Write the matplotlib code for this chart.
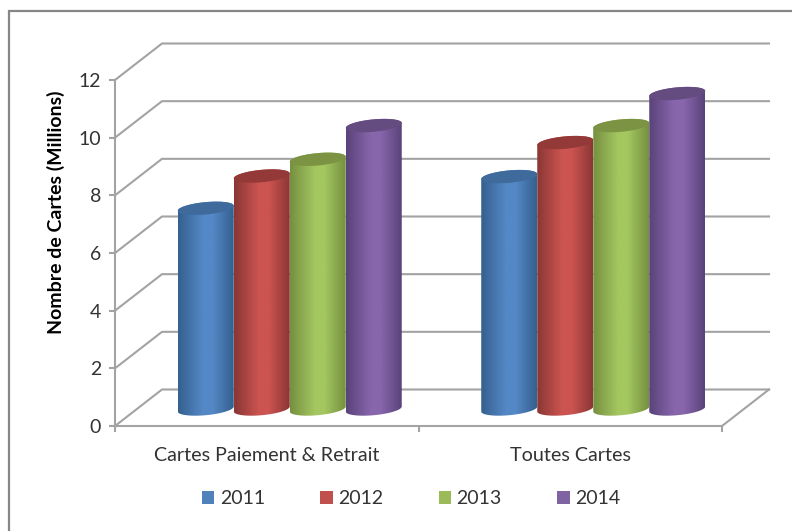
import numpy as np
import matplotlib
matplotlib.use('Agg')
import matplotlib.pyplot as plt
from matplotlib.colors import LinearSegmentedColormap
from matplotlib.lines import Line2D
from matplotlib.patches import Patch, PathPatch, Polygon
from matplotlib.path import Path

plt.rcParams['font.family'] = ['Lato', 'DejaVu Sans']

# Values
categories = ['Cartes Paiement & Retrait', 'Toutes Cartes']
years = ['2011', '2012', '2013', '2014']
values_2011 = [6.96, 8.06]
values_2012 = [8.08, 9.24]
values_2013 = [8.66, 9.83]
values_2014 = [9.83, 10.94]
series = [values_2011, values_2012, values_2013, values_2014]

# edge, centre, top of each cylinder
edge_colors = ['#35608f', '#8a3735', '#769040', '#59437a']
mid_colors = ['#5488c6', '#cc5451', '#a4c760', '#8866ac']
top_colors = ['#3f6b9c', '#933a38', '#7c9344', '#644b80']
legend_colors = ['#4f81bd', '#c0504d', '#9bbb59', '#8064a2']

line_color = '#a3a3a3'
W, H = 792, 531
x0_px, x1_px, y0_px, y12_px = 115, 722, 426, 80
px_x = (x1_px - x0_px) / 2          # pixels per category
px_y = (y0_px - y12_px) / 12        # pixels per unit

fig = plt.figure(figsize=(W / 100, H / 100), dpi=100)
ax = fig.add_axes([x0_px / W, 1 - y0_px / H, (x1_px - x0_px) / W, (y0_px - y12_px) / H])
ax.set_xlim(0, 2)
ax.set_ylim(0, 12)
ax.patch.set_alpha(0)

# chart frame, only its top and left edges are in the picture
fig.add_artist(Line2D([9 / W, 9 / W, 1], [0, 1 - 11 / H, 1 - 11 / H], transform=fig.transFigure,
                      color='#868686', linewidth=1.6, solid_joinstyle='miter'))

# back wall and floor
dx = 47 / px_x
dy = 36.5 / px_y
for v in range(0, 13, 2):
    ax.plot([0, dx, 2 + dx], [v, v + dy, v + dy], color=line_color, lw=1.5, clip_on=False, zorder=1)
ax.plot([2, 2 + dx], [0, dy], color=line_color, lw=1.5, clip_on=False, zorder=1)

# cylinders
bar_w = 56 / px_x
base = 17 / px_y
a = bar_w / 2
b = 6.2 / px_y
shear = 2.5 / px_y
t = np.linspace(0, 2 * np.pi, 121)


def ring(cx, cy, t):
    return np.column_stack([cx + a * np.cos(t), cy + shear * np.cos(t) + b * np.sin(t)])


for g in range(len(categories)):
    center = g + 0.5 + dx / 2 - 0.5 / px_x
    for i, vals in enumerate(series):
        cx = center + (i - 1.5) * bar_w
        top = base + vals[g]
        front_top = ring(cx, top, np.linspace(np.pi, 0, 60))
        front_bot = ring(cx, base, np.linspace(2 * np.pi, np.pi, 60))
        outline = np.vstack([front_top, front_bot, front_top[:1]])
        patch = PathPatch(Path(outline), fc='none', ec='none', zorder=3 + i)
        ax.add_patch(patch)
        cmap = LinearSegmentedColormap.from_list(
            'c', [(0, edge_colors[i]), (0.45, mid_colors[i]), (0.62, mid_colors[i]), (1, edge_colors[i])])
        im = ax.imshow(np.linspace(0, 1, 200).reshape(1, -1), cmap=cmap, aspect='auto',
                       extent=[cx - a, cx + a, base - 1, top + 1], zorder=3 + i)
        im.set_clip_path(patch)
        ax.add_patch(Polygon(ring(cx, top, t), closed=True, fc=top_colors[i], ec='none',
                             zorder=3 + i, clip_on=False))
ax.set_xlim(0, 2)
ax.set_ylim(0, 12)

# axes
for s in ['top', 'right']:
    ax.spines[s].set_visible(False)
for s in ['left', 'bottom']:
    ax.spines[s].set_color(line_color)
    ax.spines[s].set_linewidth(1.5)
ax.set_yticks(range(0, 13, 2))
ax.set_xticks([0, 1, 2])
ax.set_xticklabels([])
ax.tick_params(axis='both', color=line_color, width=1.5, length=4, labelsize=14, labelcolor='#333333')
ax.tick_params(axis='y', pad=6)
ax.set_xticks([0.5, 1.5], minor=True)
ax.set_xticklabels(categories, minor=True, fontsize=14.2, color='#333333')
ax.tick_params(axis='x', which='minor', length=0, pad=15)
ax.set_ylabel('Nombre de Cartes (Millions)', fontsize=14, fontweight='bold', color='black', labelpad=10, y=0.618)

# legend
handles = [Patch(facecolor=c, label=y) for c, y in zip(legend_colors, years)]
fig.legend(handles=handles, ncol=4, loc='center', bbox_to_anchor=(411 / W, 1 - 499 / H), frameon=False,
           fontsize=14, labelcolor='#333333', handlelength=0.64, handleheight=0.64,
           handletextpad=0.28, columnspacing=2.85)

fig.savefig('out.png', dpi=100)
